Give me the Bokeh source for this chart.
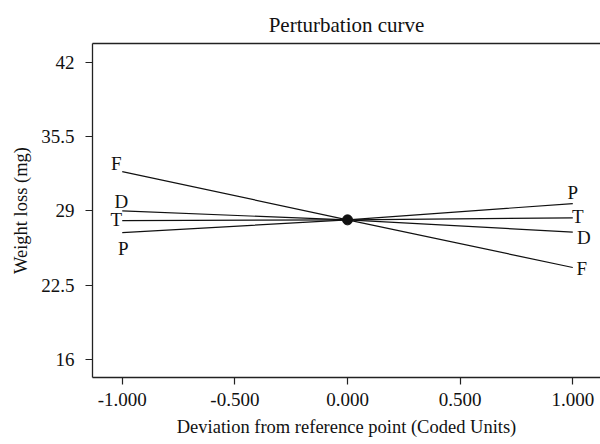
from bokeh.plotting import figure
from bokeh.models import Range1d, FixedTicker, LinearAxis, ColumnDataSource
from bokeh.core.properties import value
from bokeh.embed import file_html
from bokeh.resources import INLINE

# ---- data ----
x_dev = [-1.0, 0.0, 1.0]
factors = ["F", "D", "T", "P"]
weight_F = [32.45, 28.22, 24.05]
weight_D = [29.00, 28.22, 27.15]
weight_T = [28.15, 28.22, 28.40]
weight_P = [27.10, 28.22, 29.65]
center_point = 28.22
x_ticks = [-1.0, -0.5, 0.0, 0.5, 1.0]
x_tick_labels = ["-1.000", "-0.500", "0.000", "0.500", "1.000"]
y_ticks = [16.0, 22.5, 29.0, 35.5, 42.0]
y_tick_labels = ["16", "22.5", "29", "35.5", "42"]

series = {"F": weight_F, "D": weight_D, "T": weight_T, "P": weight_P}

# label pixel offsets (left end, right end)
left_off = {"F": (-6, -8), "D": (-1, -9), "T": (-6, -1), "P": (1, 16)}
right_off = {"F": (9, 1), "D": (11, 5), "T": (5, -1), "P": (0, -11)}

FONT = "Liberation Serif"
AX = "#222222"
TXT = "#111111"

p = figure(width=600, height=444,
           x_range=Range1d(-1.132, 1.123), y_range=Range1d(14.42, 43.66),
           output_backend="svg", toolbar_location=None,
           min_border_left=92, min_border_right=0,
           min_border_top=43, min_border_bottom=67)
p.outline_line_color = None
p.xgrid.visible = False
p.ygrid.visible = False
p.background_fill_color = "white"
p.border_fill_color = "white"

p.title.text = "Perturbation curve"
p.title.align = "center"
p.title.vertical_align = "top"
p.title.text_font = FONT
p.title.text_font_style = "normal"
p.title.text_font_size = "21px"
p.title.text_color = TXT
p.title.standoff = 10

for ax in (p.xaxis[0], p.yaxis[0]):
    ax.axis_line_color = AX
    ax.axis_line_width = 1.3
    ax.major_tick_line_color = AX
    ax.major_tick_line_width = 1.2
    ax.major_tick_out = 7
    ax.major_tick_in = 0
    ax.minor_tick_line_color = None
    ax.major_label_text_font = FONT
    ax.major_label_text_font_size = "19px"
    ax.major_label_text_color = TXT
    ax.axis_label_text_font = FONT
    ax.axis_label_text_font_size = "18.5px"
    ax.axis_label_text_font_style = "normal"
    ax.axis_label_text_color = TXT

p.xaxis[0].ticker = FixedTicker(ticks=x_ticks)
p.xaxis[0].major_label_overrides = {t: l for t, l in zip(x_ticks, x_tick_labels)}
p.xaxis[0].axis_label = "Deviation from reference point (Coded Units)"
p.xaxis[0].major_label_standoff = 8
p.xaxis[0].axis_label_standoff = 8

p.yaxis[0].ticker = FixedTicker(ticks=y_ticks)
p.yaxis[0].major_label_overrides = {t: l for t, l in zip(y_ticks, y_tick_labels)}
p.yaxis[0].axis_label = "Weight loss (mg)"
p.yaxis[0].major_label_standoff = 11
p.yaxis[0].axis_label_standoff = 7

top = LinearAxis(ticker=FixedTicker(ticks=[]))
top.axis_line_color = AX
top.axis_line_width = 1.3
top.major_tick_line_color = None
top.minor_tick_line_color = None
top.major_label_text_color = None
p.add_layout(top, "above")

# lines
for f in factors:
    p.line(x_dev, series[f], line_color=TXT, line_width=1.2)

# labels
lx, ly, lt, xo, yo = [], [], [], [], []
for f in factors:
    vals = series[f]
    lx.append(x_dev[0]); ly.append(vals[0]); lt.append(f)
    xo.append(left_off[f][0]); yo.append(left_off[f][1])
    lx.append(x_dev[-1]); ly.append(vals[-1]); lt.append(f)
    xo.append(right_off[f][0]); yo.append(right_off[f][1])
src = ColumnDataSource(dict(x=lx, y=ly, text=lt, xo=xo, yo=yo))
p.text(x="x", y="y", text="text", x_offset="xo", y_offset="yo", source=src,
       text_font=value(FONT), text_font_size="19px", text_color=TXT,
       text_align="center", text_baseline="middle")

p.scatter(x=[x_dev[1]], y=[center_point], size=10, color=TXT)

open("out.html", "w").write(file_html(p, INLINE))
